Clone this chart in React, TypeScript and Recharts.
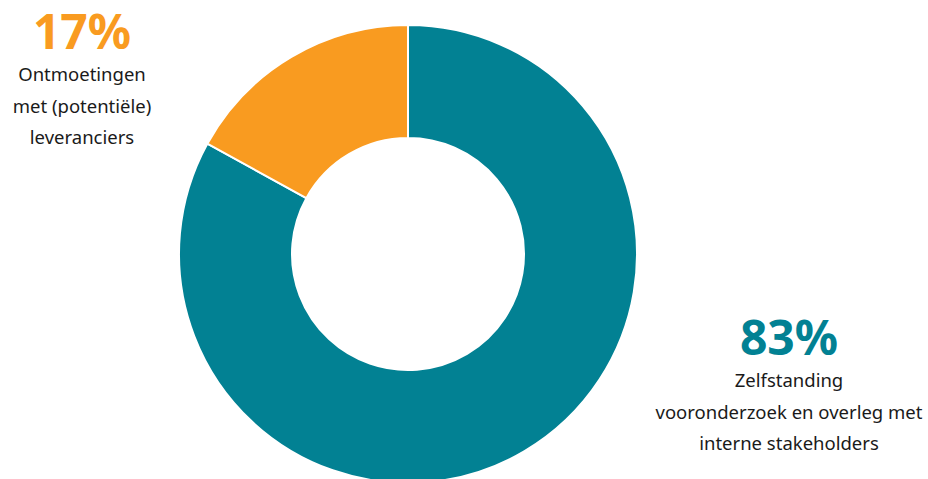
import { Cell, Pie, PieChart } from 'recharts';

const categories = [
  'Zelfstanding vooronderzoek en overleg met interne stakeholders',
  'Ontmoetingen met (potentiële) leveranciers',
];
const shares = [83, 17];
const colors = ['#028193', '#F99B20'];

const data = categories.map((name, i) => ({ name, value: shares[i] }));

const labelStyle: React.CSSProperties = {
  position: 'absolute',
  textAlign: 'center',
  fontFamily: '"Noto Sans", sans-serif',
  color: '#1a1a1a',
  fontSize: 18.5,
  lineHeight: '31.5px',
};

export default function App() {
  return (
    <div style={{ position: 'absolute', left: 0, top: 0, width: 928, height: 479, background: '#fff', overflow: 'hidden' }}>
      <PieChart width={928} height={479} margin={{ top: 0, right: 0, bottom: 0, left: 0 }}>
        <Pie
          data={data}
          dataKey="value"
          nameKey="name"
          cx={408}
          cy={254}
          innerRadius={116}
          outerRadius={229}
          startAngle={90}
          endAngle={-270}
          stroke="#fff"
          strokeWidth={2}
          isAnimationActive={false}
        >
          {data.map((d, i) => (
            <Cell key={d.name} fill={colors[i]} />
          ))}
        </Pie>
      </PieChart>

      <div style={{ ...labelStyle, left: 0, top: 6, width: 164 }}>
        <div style={{ color: colors[1], fontWeight: 700, fontSize: 48, lineHeight: '50px' }}>{shares[1]}%</div>
        <div style={{ marginTop: 2 }}>Ontmoetingen<br />met (potentiële)<br />leveranciers</div>
      </div>

      <div style={{ ...labelStyle, left: 648, top: 312, width: 282 }}>
        <div style={{ color: colors[0], fontWeight: 700, fontSize: 48, lineHeight: '50px' }}>{shares[0]}%</div>
        <div style={{ marginTop: 2 }}>Zelfstanding<br />vooronderzoek en overleg met<br />interne stakeholders</div>
      </div>
    </div>
  );
}
